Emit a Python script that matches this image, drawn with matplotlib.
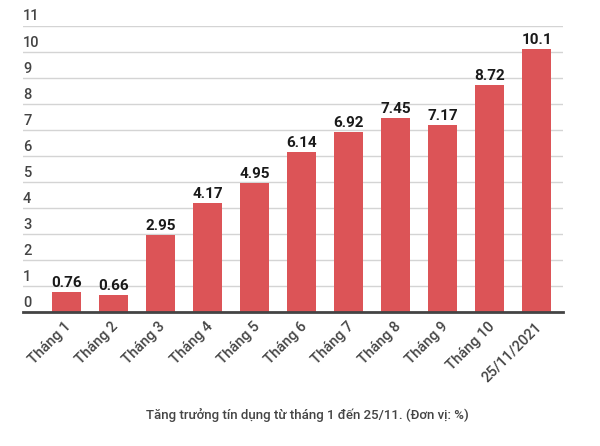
import matplotlib
matplotlib.use('Agg')
import matplotlib.pyplot as plt
import matplotlib.transforms as mtransforms

plt.rcParams['font.family'] = ['Roboto', 'DejaVu Sans']

# credit growth per month, %
months = ['Tháng 1', 'Tháng 2', 'Tháng 3', 'Tháng 4', 'Tháng 5', 'Tháng 6',
          'Tháng 7', 'Tháng 8', 'Tháng 9', 'Tháng 10', '25/11/2021']
growth = [0.76, 0.66, 2.95, 4.17, 4.95, 6.14, 6.92, 7.45, 7.17, 8.72, 10.1]
yticks = list(range(0, 12))
caption = 'Tăng trưởng tín dụng từ tháng 1 đến 25/11. (Đơn vị: %)'

bar_color = '#dc5457'
grid_color = '#d4d4d4'
text_grey = '#444444'

fig = plt.figure(figsize=(6, 4.46), dpi=100)
ax = fig.add_axes([23/600, 1 - 312/446, (563 - 23)/600, (312 - 25.5)/446])

x = range(len(months))
bars = ax.bar(x, growth, width=0.62, color=bar_color, zorder=3)
ax.bar_label(bars, labels=[f'{v:g}' for v in growth], padding=1.5,
             fontsize=11, fontweight='bold', color='#1a1a1a')

ax.set_xlim(-0.92, 10.56)
ax.set_ylim(0, 11)
ax.set_yticks(yticks)
ax.grid(axis='y', color=grid_color, linewidth=1, zorder=0)

for s in ['top', 'right', 'left']:
    ax.spines[s].set_visible(False)
ax.spines['bottom'].set_color('#444444')
ax.spines['bottom'].set_linewidth(2)
ax.spines['bottom'].set_zorder(4)

# y labels sit above their gridlines, left aligned
ax.tick_params(axis='y', length=0, pad=0, labelsize=10.5, labelcolor=text_grey)
ax.set_yticklabels([str(t) for t in yticks], fontweight='medium')
for lab in ax.get_yticklabels():
    lab.set_horizontalalignment('left')
    lab.set_verticalalignment('bottom')
    lab.set_transform(lab.get_transform() +
                      mtransforms.ScaledTranslation(0, 2/100, fig.dpi_scale_trans))

ax.set_xticks(list(x))
ax.set_xticklabels(months, rotation=45, ha='right', va='center',
                   rotation_mode='anchor', fontweight='medium')
ax.tick_params(axis='x', length=0, pad=9, labelsize=10.5, labelcolor=text_grey)
for lab in ax.get_xticklabels():
    lab.set_transform(lab.get_transform() +
                      mtransforms.ScaledTranslation(3/100, 0, fig.dpi_scale_trans))

fig.text(0.513, 1 - 415/446, caption, ha='center', va='center',
         fontsize=9.5, fontweight='medium', color=text_grey)

fig.savefig('out.png', dpi=100, facecolor='white')
